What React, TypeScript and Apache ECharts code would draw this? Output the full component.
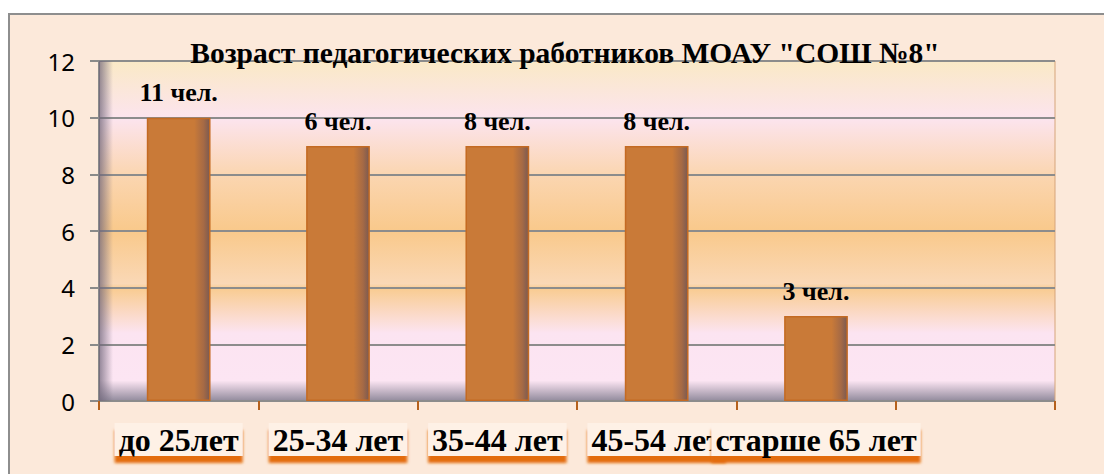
import React, { useEffect, useRef } from "react";
import * as echarts from "echarts";

const titleText = 'Возраст педагогических работников МОАУ "СОШ №8"';
const categories = ["до 25лет", "25-34 лет", "35-44 лет", "45-54 лет", "старше 65 лет", ""];
const values: (number | null)[] = [10, 9, 9, 9, 3, null];
const labelTexts = ["11 чел.", "6 чел.", "8 чел.", "8 чел.", "3 чел.", ""];
const yMin = 0;
const yMax = 12;
const yInterval = 2;

const SERIF = "'Liberation Serif', 'DejaVu Serif', serif";

export default function App() {
  const ref = useRef<HTMLDivElement>(null);
  useEffect(() => {
    if (!ref.current) return;
    const chart = echarts.init(ref.current, undefined, { renderer: "svg" });
    const LG = echarts.graphic.LinearGradient;
    chart.setOption({
      animation: false,
      backgroundColor: "#FCE9DA",
      grid: {
        left: 89,
        right: 49,
        top: 46,
        bottom: 73,
        show: true,
        borderColor: "#D6A57A",
        borderWidth: 1,
        backgroundColor: new LG(0, 0, 0, 1, [
          { offset: 0, color: "#FAE9C6" },
          { offset: 0.17, color: "#FCE4EE" },
          { offset: 0.33, color: "#FBD6B2" },
          { offset: 0.5, color: "#F9C98B" },
          { offset: 0.655, color: "#FAD8B6" },
          { offset: 0.67, color: "#F9CC92" },
          { offset: 0.8, color: "#FCE4F1" },
          { offset: 0.94, color: "#FCE5F3" },
          { offset: 1, color: "#918A9C" },
        ]),
      },
      graphic: [
        {
          type: "rect",
          left: 89,
          top: 46,
          shape: { width: 14, height: 340 },
          style: {
            fill: new LG(0, 0, 1, 0, [
              { offset: 0, color: "rgba(110,100,120,0.75)" },
              { offset: 1, color: "rgba(110,100,120,0)" },
            ]),
          },
          z: 1,
          silent: true,
        },
        {
          type: "text",
          x: 555,
          y: 38,
          z: 100,
          style: {
            text: titleText,
            font: `bold 29.5px ${SERIF}`,
            fill: "#000",
            textAlign: "center",
            textVerticalAlign: "middle",
          },
        },
      ],
      xAxis: {
        type: "category",
        data: categories,
        boundaryGap: true,
        axisLine: {
          lineStyle: {
            color: "#B5611C",
            width: 2,
            shadowColor: "rgba(240,160,90,0.8)",
            shadowBlur: 6,
            shadowOffsetY: 4,
          },
        },
        axisTick: {
          show: true,
          alignWithLabel: false,
          length: 9,
          lineStyle: { color: "#B5611C", width: 2 },
        },
        axisLabel: {
          interval: 0,
          hideOverlap: false,
          margin: 22,
          formatter: (v: string) => (v ? `{b|${v}}` : ""),
          rich: {
            b: {
              fontFamily: SERIF,
              fontWeight: "bold",
              fontSize: 32,
              color: "#000",
              backgroundColor: "#FEF1E6",
              padding: [1, 4, 0, 4],
              shadowColor: "#E36C0A",
              shadowBlur: 3,
              shadowOffsetY: 7,
            },
          },
        },
        splitLine: { show: false },
      },
      yAxis: {
        type: "value",
        min: yMin,
        max: yMax,
        interval: yInterval,
        axisLine: {
          show: true,
          lineStyle: { color: "#8A8A8A", width: 2 },
        },
        axisTick: {
          show: true,
          length: 9,
          lineStyle: { color: "#8A8A8A", width: 2 },
        },
        axisLabel: {
          margin: 24,
          fontFamily: "'Noto Sans', 'Open Sans', sans-serif",
          fontSize: 24,
          color: "#000",
        },
        splitLine: {
          show: true,
          lineStyle: { color: "#8C8C8C", width: 2 },
        },
      },
      series: [
        {
          type: "bar",
          data: values,
          barWidth: "40%",
          z: 3,
          itemStyle: {
            color: new LG(0, 0, 1, 0, [
              { offset: 0, color: "#C97A38" },
              { offset: 0.75, color: "#C97A38" },
              { offset: 0.9, color: "#A66A45" },
              { offset: 1, color: "#7A5A52" },
            ]),
            borderColor: "#C46A22",
            borderWidth: 1.5,
          },
          label: {
            show: true,
            position: "top",
            distance: 12,
            fontFamily: SERIF,
            fontWeight: "bold",
            fontSize: 26,
            color: "#000",
            formatter: (p: any) => labelTexts[p.dataIndex],
          },
        },
      ],
    });
    return () => chart.dispose();
  }, []);
  return (
    <div
      style={{
        position: "absolute",
        left: 8,
        top: 13,
        width: 1096,
        height: 461,
        boxSizing: "border-box",
        borderTop: "2px solid #8E8E8E",
        borderLeft: "2px solid #8E8E8E",
        background: "#FCE9DA",
        overflow: "hidden",
      }}
    >
      <div ref={ref} style={{ width: 1094, height: 459 }} />
    </div>
  );
}
